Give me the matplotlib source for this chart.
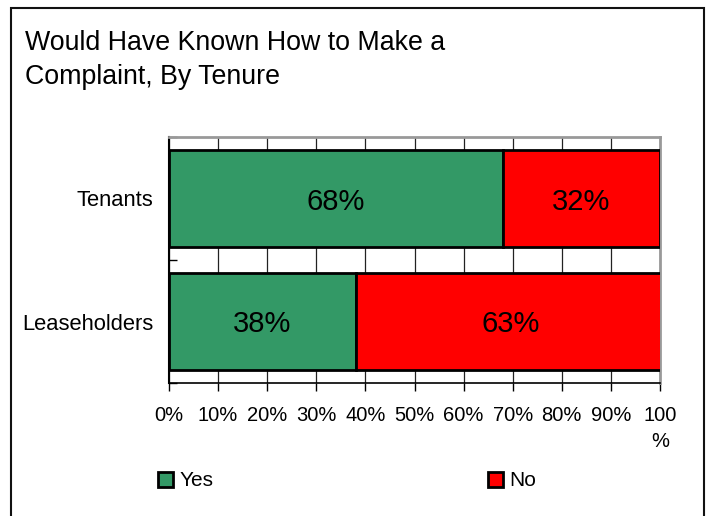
import matplotlib
matplotlib.use("Agg")
import matplotlib.pyplot as plt
from matplotlib.patches import Rectangle, Patch
from matplotlib.ticker import FixedLocator

plt.rcParams['font.family'] = ['Liberation Sans', 'DejaVu Sans']

title = "Would Have Known How to Make a\nComplaint, By Tenure"
categories = ["Tenants", "Leaseholders"]
yes_pct = [68, 38]
no_pct = [32, 63]
x_ticks = [0, 10, 20, 30, 40, 50, 60, 70, 80, 90, 100]
x_tick_labels = ["0%", "10%", "20%", "30%", "40%", "50%", "60%", "70%", "80%", "90%", "100\n%"]
series_names = ["Yes", "No"]
colors = ["#339966", "#FF0000"]

W, H = 712, 516
fig = plt.figure(figsize=(W / 100, H / 100), dpi=100)

# outer frame of the chart
fig.patches.append(Rectangle((11 / W, -0.02), (704 - 11) / W, 1.02 - 8 / H,
                             transform=fig.transFigure, fill=False,
                             edgecolor="#111111", linewidth=1.5))

fig.text(25 / W, 1 - 30 / H, title, ha="left", va="top", fontsize=19.3,
         linespacing=1.38)

ax = fig.add_axes([169 / W, 1 - 383 / H, (660 - 169) / W, (383 - 137) / H])

ypos = list(range(len(categories)))
bar_h = 0.79
ax.barh(ypos, yes_pct, height=bar_h, color=colors[0], edgecolor="black",
        linewidth=2, zorder=3, label=series_names[0])
ax.barh(ypos, no_pct, left=yes_pct, height=bar_h, color=colors[1],
        edgecolor="black", linewidth=2, zorder=3, label=series_names[1])

for y, a, b in zip(ypos, yes_pct, no_pct):
    ax.text(a / 2, y, f"{a}%", ha="center", va="center_baseline", fontsize=21, zorder=4)
    ax.text(a + b / 2, y, f"{b}%", ha="center", va="center_baseline", fontsize=21, zorder=4)

ax.set_xlim(0, 100)
ax.set_ylim(len(categories) - 0.5, -0.5)
ax.set_xticks(x_ticks)
ax.set_xticklabels(x_tick_labels, fontsize=14.5, multialignment="center",
                   linespacing=1.45)
ax.tick_params(axis="x", direction="out", length=6, width=1, color="black", pad=10.5)

ax.set_yticks(ypos)
ax.set_yticklabels(categories, fontsize=15.8)
ax.tick_params(axis="y", which="major", length=0, pad=11.5)
ax.yaxis.set_minor_locator(FixedLocator([-0.5, 0.5, 1.5]))
ax.tick_params(axis="y", which="minor", direction="in", length=6, width=1, color="black")

ax.grid(axis="x", color="#222222", linewidth=0.9, zorder=0)
ax.set_axisbelow(True)

ax.spines["left"].set_color("black")
ax.spines["left"].set_linewidth(1.5)
ax.spines["bottom"].set_color("black")
ax.spines["bottom"].set_linewidth(1.2)
for s in ("top", "right"):
    ax.spines[s].set_color("#999999")
    ax.spines[s].set_linewidth(2)

handles = [Patch(facecolor=c, edgecolor="black", linewidth=2) for c in colors]
fig.legend(handles, series_names, loc="center left",
           bbox_to_anchor=(158 / W, 1 - 481 / H), ncol=2, frameon=False,
           fontsize=15, handlelength=0.72, handleheight=0.72,
           handletextpad=0.3, columnspacing=13.2, borderpad=0, borderaxespad=0)

fig.savefig("out.png", dpi=100)
